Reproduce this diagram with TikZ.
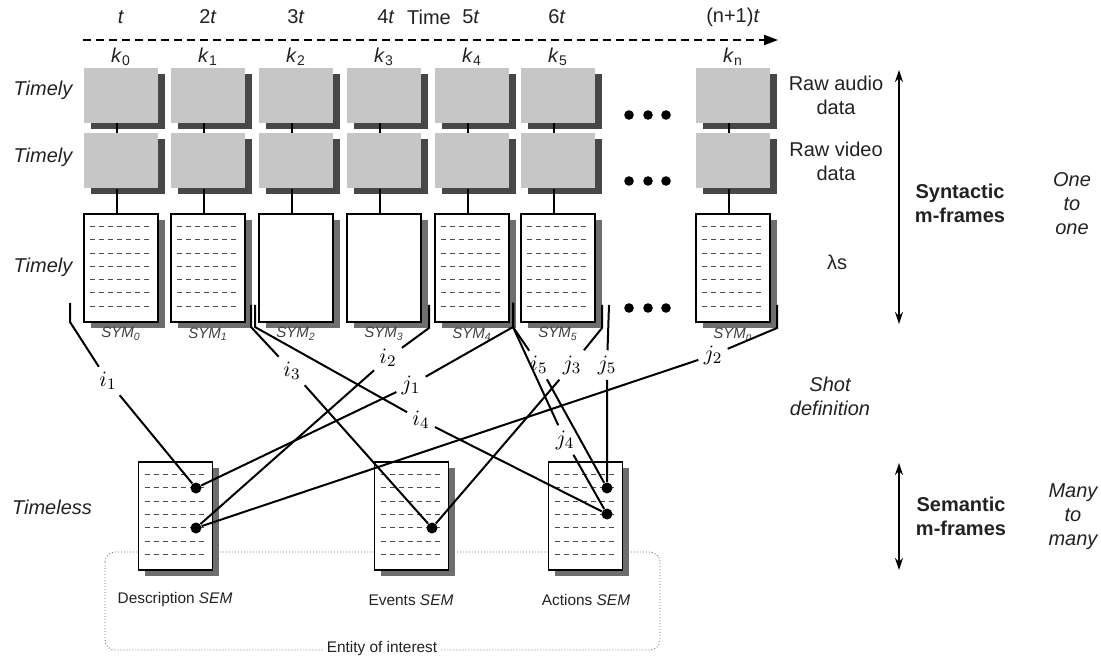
\documentclass[tikz,border=0pt]{standalone}
\usepackage[no-math]{fontspec}
\setmainfont{Liberation Sans}
\usepackage{tikz}
\usetikzlibrary{arrows.meta, shadows, positioning}

\definecolor{rawgray}{HTML}{C6C6C6}
\definecolor{rawshade}{HTML}{474747}
\definecolor{docshade}{HTML}{6E6E6E}
\definecolor{inkgray}{HTML}{222222}

\tikzset{
  rawbox/.style={fill=rawgray, minimum width=37pt, minimum height=27.5pt, inner sep=0pt,
    drop shadow={shadow xshift=3.3pt, shadow yshift=-3pt, fill=rawshade, opacity=1}},
  docbox/.style={draw, line width=0.8pt, fill=white, minimum width=37pt, minimum height=54pt, inner sep=0pt,
    drop shadow={shadow xshift=3.3pt, shadow yshift=-3pt, fill=docshade, opacity=1}},
  fieldline/.style={dash pattern=on 2.5pt off 2pt, line width=0.5pt, black!70},
  rowlabel/.style={font=\itshape, text=inkgray},
  sidelabel/.style={align=center, text=inkgray},
  klabel/.style={inner sep=1pt, text=inkgray},
  symlabel/.style={inner sep=1pt, font=\fontsize{7.5}{9}\selectfont\itshape, text=black!75},
  semlabel/.style={inner sep=1pt, font=\fontsize{7.7}{9}\selectfont, text=inkgray},
  idx/.style={inner sep=2.5pt, font=\fontsize{11}{13}\selectfont},
  hit/.style={circle, fill, inner sep=0pt, minimum size=5.5pt},
  link/.style={line width=1pt},
  stem/.style={line width=1pt},
  span/.style={line width=0.8pt, {Stealth[length=6pt,width=4pt]}-{Stealth[length=6pt,width=4pt]}},
}

\begin{document}
\begin{tikzpicture}[x=0.5pt, y=-0.5pt]
  \useasboundingbox (0,0) rectangle (1101,657);

  % Time axis
  \coordinate (tstart) at (83,40);
  \coordinate (tend) at (778,40);
  \draw[line width=1pt, dash pattern=on 4pt off 2.5pt, -{Triangle[length=7pt,width=5pt]}] (tstart) -- (tend);
  \foreach \x/\m [count=\n] in {121/, 208/2, 296/3, 386/4, 471/5, 557/6, 733/(n+1)}
    \node[klabel] (tick\n) at (\x,17) {\m\textit{t}};
  \node[klabel] (time) at (429,17) {Time};

  % Syntactic m-frames
  \foreach \c/\x in {0/121, 1/208, 2/296, 3/384, 4/472, 5/558, n/733} {
    \node[klabel] (k\c) at (\x,57) {\textit{k}\textsubscript{\c}};
    \node[rawbox] (a\c) at (\x,95.5) {};
    \node[rawbox] (v\c) at (\x,161) {};
    \node[docbox] (s\c) at (\x,268) {};
    \node[symlabel] (sym\c) at (\x,334) {\textit{SYM}\textsubscript{\c}};
    \draw[stem] ([xshift=-2pt]a\c.south) -- ([xshift=-2pt]v\c.north);
    \draw[stem] ([xshift=-2pt]v\c.south) -- ([xshift=-2pt]s\c.north);
  }
  \foreach \y in {115, 181, 308}
    \foreach \x in {629, 648, 666}
      \fill (\x,\y) circle (2.4pt);

  % Semantic m-frames
  \draw[black!55, line width=0.4pt, dash pattern=on 0.5pt off 1pt, rounded corners=5pt] (105,552) rectangle (660,650);
  \node[semlabel, fill=white, inner sep=2pt] (eoi) at (382,649) {Entity of interest};
  \node[docbox] (dsem) at (175.5,516) {};
  \node[docbox] (esem) at (411.5,516) {};
  \node[docbox] (asem) at (585.5,516) {};
  \node[semlabel] (dname) at (175,600) {Description \textit{SEM}};
  \node[semlabel] (ename) at (411,600) {Events \textit{SEM}};
  \node[semlabel] (aname) at (586,600) {Actions \textit{SEM}};

  \foreach \s in {s0, s1, s4, s5, sn, dsem, esem, asem}
    \foreach \k in {1,...,7}
      \draw[fieldline] ([xshift=3.5pt, yshift={-\k*6.65pt}]\s.north west) -- ++(30pt,0);

  % Row and side labels
  \node[rowlabel] (tly1) at (43,90) {Timely};
  \node[rowlabel] (tly2) at (43,157) {Timely};
  \node[rowlabel] (tly3) at (43,267) {Timely};
  \node[rowlabel] (tless) at (52,507) {Timeless};

  \node[sidelabel] (raud) at (836,95) {Raw audio\\data};
  \node[sidelabel] (rvid) at (836,161) {Raw video\\data};
  \node[sidelabel] (lam) at (837,262) {λs};
  \coordinate (syn1) at (899,70);
  \coordinate (syn2) at (899,324);
  \draw[span] (syn1) -- (syn2);
  \node[sidelabel, font=\bfseries] (syn) at (960,203) {Syntactic\\m-frames};
  \node[sidelabel, font=\itshape] (one) at (1072,204) {One\\to\\one};
  \node[sidelabel, font=\itshape] (shot) at (830,396) {Shot\\definition};
  \coordinate (sem1) at (899,463);
  \coordinate (sem2) at (899,570);
  \draw[span] (sem1) -- (sem2);
  \node[sidelabel, font=\bfseries] (sem) at (961,516) {Semantic\\m-frames};
  \node[sidelabel, font=\itshape] (many) at (1073,517) {Many\\to\\many};

  % Hits in the semantic frames
  \node[hit] (du) at (196,488) {};
  \node[hit] (dl) at (196,528) {};
  \node[hit] (ev) at (432,528) {};
  \node[hit] (au) at (607,488) {};
  \node[hit] (al) at (607,514) {};

  % Shot definition links
  \node[idx] (i1) at (108,381) {$i_1$};
  \node[idx] (i2) at (388,358) {$i_2$};
  \node[idx] (i3) at (292,371) {$i_3$};
  \node[idx] (i4) at (421,420) {$i_4$};
  \node[idx] (i5) at (539,365) {$i_5$};
  \node[idx] (j1) at (411,385) {$j_1$};
  \node[idx] (j2) at (713,355) {$j_2$};
  \node[idx] (j3) at (572,365) {$j_3$};
  \node[idx] (j4) at (565,440) {$j_4$};
  \node[idx] (j5) at (607,365) {$j_5$};

  \coordinate (ui1) at (70,303);  \coordinate (wi1) at (70,322);
  \coordinate (ui3) at (251,305); \coordinate (wi3) at (251,327);
  \coordinate (ui4) at (255,305); \coordinate (wi4) at (255,327);
  \coordinate (ui2) at (429,305); \coordinate (wi2) at (429,328);
  \coordinate (u4) at (513,303);  \coordinate (w4) at (513,327);
  \coordinate (uj3) at (602,305); \coordinate (wj3) at (602,328);
  \coordinate (uj5) at (609,305);
  \coordinate (uj2) at (777,305); \coordinate (wj2) at (777,328);

  \draw[link] (ui1) -- (wi1) -- (i1) -- (du);
  \draw[link] (ui2) -- (wi2) -- (i2) -- (dl);
  \draw[link] (ui3) -- (wi3) -- (i3) -- (ev);
  \draw[link] (ui4) -- (wi4) -- (i4) -- (al);
  \draw[link] (u4) -- (w4) -- (i5) -- (au);
  \draw[link] (u4) -- (w4) -- (j1) -- (du);
  \draw[link] (uj2) -- (wj2) -- (j2) -- (dl);
  \draw[link] (uj3) -- (wj3) -- (j3) -- (ev);
  \draw[link] (u4) -- (w4) -- (j4) -- (al);
  \draw[link] (uj5) -- (j5) -- (au);
\end{tikzpicture}
\end{document}
